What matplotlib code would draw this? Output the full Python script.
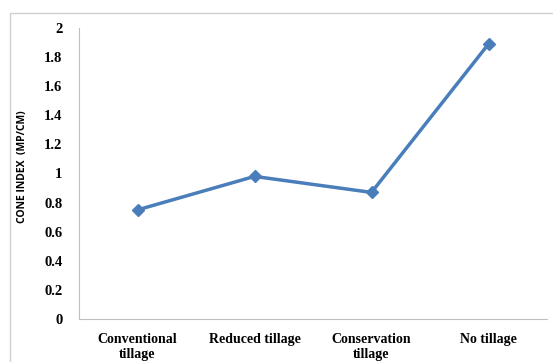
import matplotlib
matplotlib.use("Agg")
import matplotlib.pyplot as plt
from matplotlib.patches import Rectangle

categories = ["Conventional\ntillage", "Reduced tillage", "Conservation\ntillage", "No tillage"]
values = [0.75, 0.98, 0.87, 1.89]
yticks = [0, 0.2, 0.4, 0.6, 0.8, 1, 1.2, 1.4, 1.6, 1.8, 2]
ytick_labels = ["0", "0.2", "0.4", "0.6", "0.8", "1", "1.2", "1.4", "1.6", "1.8", "2"]

fig = plt.figure(figsize=(5.53, 3.62), dpi=100)
fig.patches.append(Rectangle((10/553, -0.1), 1.2, 1 - 13/362 + 0.1, transform=fig.transFigure,
                             fill=False, edgecolor="#d0d0d0", linewidth=1.0))
ax = fig.add_axes([79/553, 1 - 319/362, (547 - 79)/553, (319 - 28)/362])
x = list(range(len(categories)))
ax.plot(x, values, color="#4a7ebb", linewidth=2.5, marker="D", markersize=6)
ax.set_xlim(-0.5, len(categories) - 0.5)
ax.set_ylim(0, 2)
ax.set_yticks(yticks)
ax.set_yticklabels(ytick_labels, fontfamily="Liberation Serif", fontweight="bold", fontsize=10.5)
ax.set_xticks(x)
ax.set_xticklabels(categories, fontfamily="Liberation Serif", fontweight="bold", fontsize=10,
                   linespacing=1.2)
ax.tick_params(axis="y", length=0, pad=12)
ax.tick_params(axis="x", length=0, pad=10)
for s in ["top", "right"]:
    ax.spines[s].set_visible(False)
ax.spines["left"].set_color("#bfbfbf")
ax.spines["bottom"].set_color("#bfbfbf")
ax.set_ylabel("CONE INDEX  (MP/CM)", fontfamily="Open Sans", fontweight="bold", fontsize=7.5)
ax.yaxis.set_label_coords((28 - 79) / 468, (319 - 167) / 291)
fig.savefig("out.png", dpi=100)
